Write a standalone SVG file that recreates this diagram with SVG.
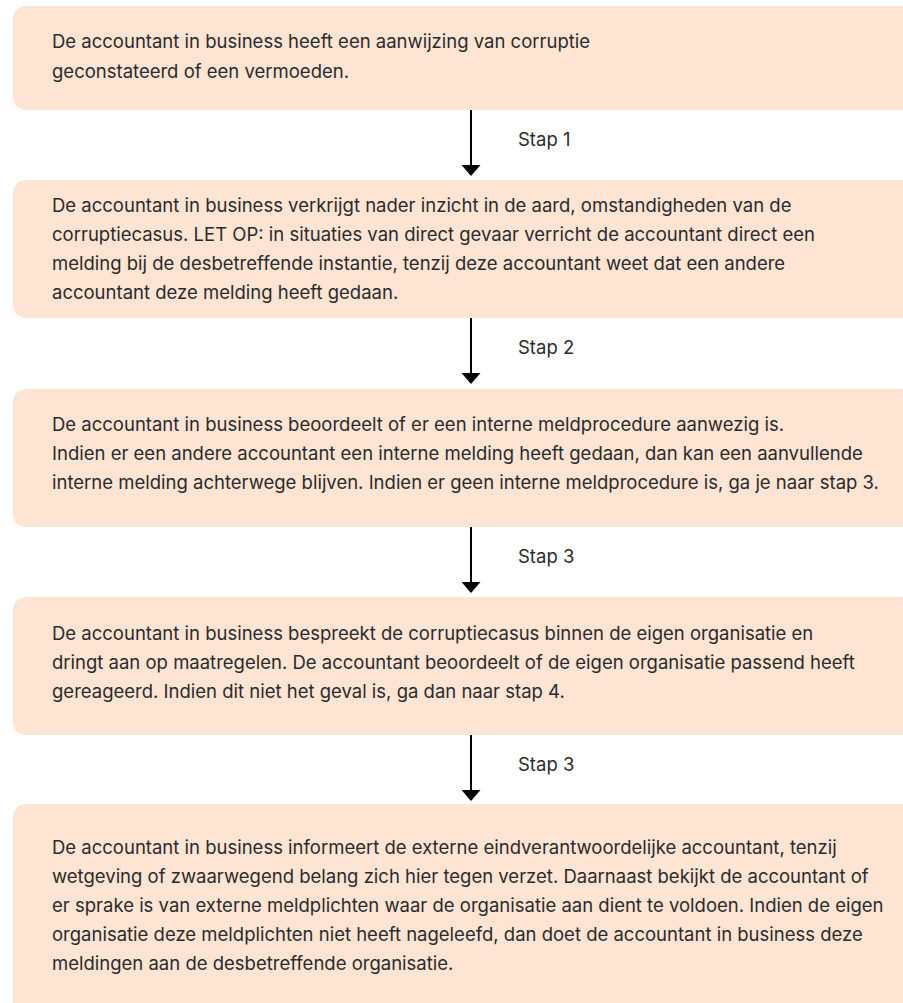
<svg xmlns="http://www.w3.org/2000/svg" width="903" height="1003" viewBox="0 0 903 1003">
<style>
.box{fill:#FDE4D3}
.t{font-family:Inter,"Noto Sans",sans-serif;font-size:18.5px;fill:#2b2b2b}
.lbl{font-family:Inter,"Noto Sans",sans-serif;font-size:18.5px;fill:#2b2b2b}
.ln{stroke:#000;stroke-width:2;fill:none}
.ah{fill:#000}
</style>
<rect width="903" height="1003" fill="#fff"/>
<g id="node1">
<rect class="box" x="13" y="6" width="920" height="104" rx="13"/>
<text class="t" x="52" y="48">De accountant in business heeft een aanwijzing van corruptie</text>
<text class="t" x="52" y="78">geconstateerd of een vermoeden.</text>
</g>
<g id="node2">
<rect class="box" x="13" y="180" width="920" height="138" rx="13"/>
<text class="t" x="52" y="212">De accountant in business verkrijgt nader inzicht in de aard, omstandigheden van de</text>
<text class="t" x="52" y="241">corruptiecasus. LET OP: in situaties van direct gevaar verricht de accountant direct een</text>
<text class="t" x="52" y="270">melding bij de desbetreffende instantie, tenzij deze accountant weet dat een andere</text>
<text class="t" x="52" y="299">accountant deze melding heeft gedaan.</text>
</g>
<g id="node3">
<rect class="box" x="13" y="389" width="920" height="138" rx="13"/>
<text class="t" x="52" y="431">De accountant in business beoordeelt of er een interne meldprocedure aanwezig is.</text>
<text class="t" x="52" y="460">Indien er een andere accountant een interne melding heeft gedaan, dan kan een aanvullende</text>
<text class="t" x="52" y="489">interne melding achterwege blijven. Indien er geen interne meldprocedure is, ga je naar stap 3.</text>
</g>
<g id="node4">
<rect class="box" x="13" y="597" width="920" height="138" rx="13"/>
<text class="t" x="52" y="640">De accountant in business bespreekt de corruptiecasus binnen de eigen organisatie en</text>
<text class="t" x="52" y="669">dringt aan op maatregelen. De accountant beoordeelt of de eigen organisatie passend heeft</text>
<text class="t" x="52" y="698">gereageerd. Indien dit niet het geval is, ga dan naar stap 4.</text>
</g>
<g id="node5">
<rect class="box" x="13" y="804" width="920" height="220" rx="13"/>
<text class="t" x="52" y="854">De accountant in business informeert de externe eindverantwoordelijke accountant, tenzij</text>
<text class="t" x="52" y="883">wetgeving of zwaarwegend belang zich hier tegen verzet. Daarnaast bekijkt de accountant of</text>
<text class="t" x="52" y="912">er sprake is van externe meldplichten waar de organisatie aan dient te voldoen. Indien de eigen</text>
<text class="t" x="52" y="941">organisatie deze meldplichten niet heeft nageleefd, dan doet de accountant in business deze</text>
<text class="t" x="52" y="970">meldingen aan de desbetreffende organisatie.</text>
</g>
<g id="connectors">
<line class="ln" x1="471" y1="110" x2="471" y2="166"/>
<polygon class="ah" points="461.5,165 480.5,165 471,176"/>
<text class="lbl" x="518" y="146">Stap 1</text>
<line class="ln" x1="471" y1="318" x2="471" y2="374"/>
<polygon class="ah" points="461.5,373 480.5,373 471,384"/>
<text class="lbl" x="518" y="354">Stap 2</text>
<line class="ln" x1="471" y1="527" x2="471" y2="583"/>
<polygon class="ah" points="461.5,582 480.5,582 471,593"/>
<text class="lbl" x="518" y="563">Stap 3</text>
<line class="ln" x1="471" y1="735" x2="471" y2="791"/>
<polygon class="ah" points="461.5,790 480.5,790 471,801"/>
<text class="lbl" x="518" y="771">Stap 3</text>
</g>
</svg>
